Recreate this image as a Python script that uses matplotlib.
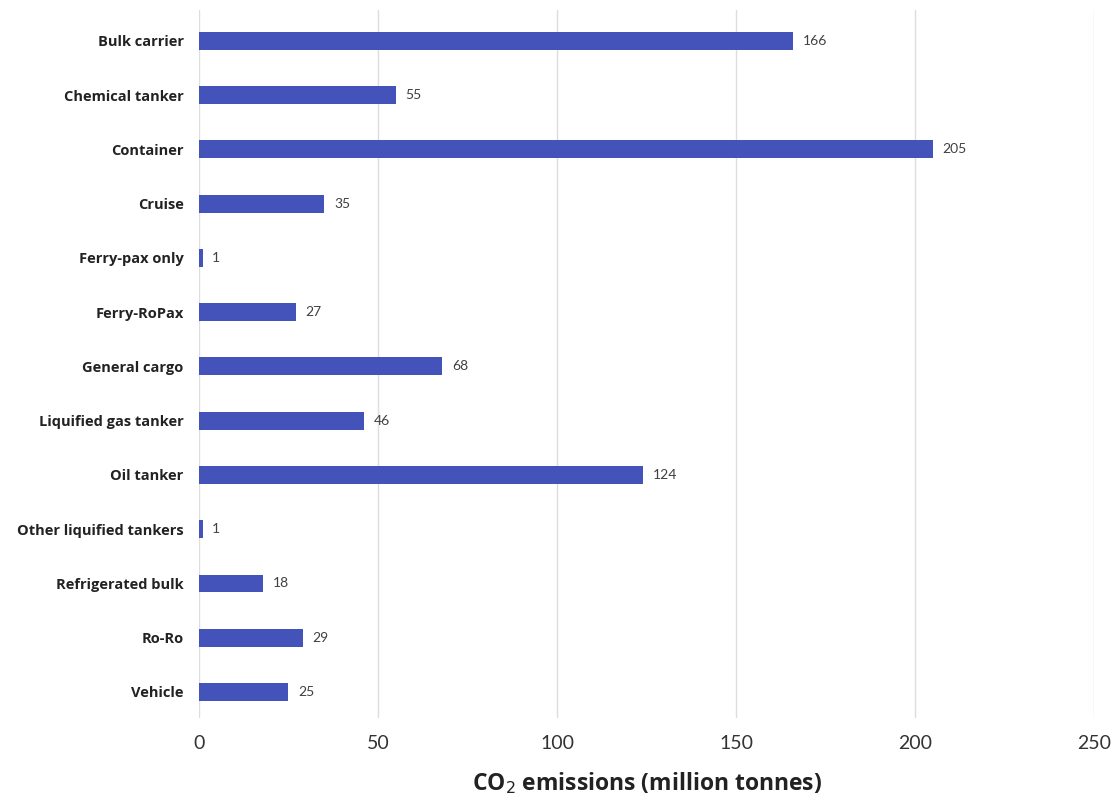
import matplotlib
matplotlib.use('Agg')
from matplotlib import pyplot as plt

plt.rcParams['font.family'] = ['Lato', 'DejaVu Sans']

# ship types and their CO2 emissions (million tonnes)
ship_types = ['Bulk carrier', 'Chemical tanker', 'Container', 'Cruise', 'Ferry-pax only',
              'Ferry-RoPax', 'General cargo', 'Liquified gas tanker', 'Oil tanker',
              'Other liquified tankers', 'Refrigerated bulk', 'Ro-Ro', 'Vehicle']
emissions = [166, 55, 205, 35, 1, 27, 68, 46, 124, 1, 18, 29, 25]
x_ticks = [0, 50, 100, 150, 200, 250]

fig = plt.figure(figsize=(11.16, 8), dpi=100)
ax = fig.add_axes([0.1783, 0.1025, 0.8020, 0.885])

pos = list(range(len(ship_types)))
ax.barh(pos, emissions, height=0.33, color='#4453B9', zorder=3)

for y, v in zip(pos, emissions):
    ax.annotate(str(v), (v, y), xytext=(7, 0), textcoords='offset points',
                va='center', ha='left', fontsize=10, color='#404040')

ax.set_ylim(12.48, -0.57)
ax.set_xlim(0, 250)
ax.set_xticks(x_ticks)
ax.set_yticks(pos)
ax.set_yticklabels(ship_types, fontsize=10.5, fontweight='bold', color='#222222',
                   family=['Open Sans', 'DejaVu Sans'])
ax.tick_params(axis='y', length=0, pad=11)
ax.tick_params(axis='x', length=0, pad=12, labelsize=14, labelcolor='#333333')

ax.grid(axis='x', color='#dddddd', linewidth=1.0, zorder=0)
for s in ax.spines.values():
    s.set_visible(False)

fig.text(0.58, 0.021, 'CO$_2$ emissions (million tonnes)', ha='center', va='center',
         fontsize=16.5, fontweight='bold', color='#222222', family=['Open Sans', 'DejaVu Sans'])

fig.savefig('out.png', dpi=100)
